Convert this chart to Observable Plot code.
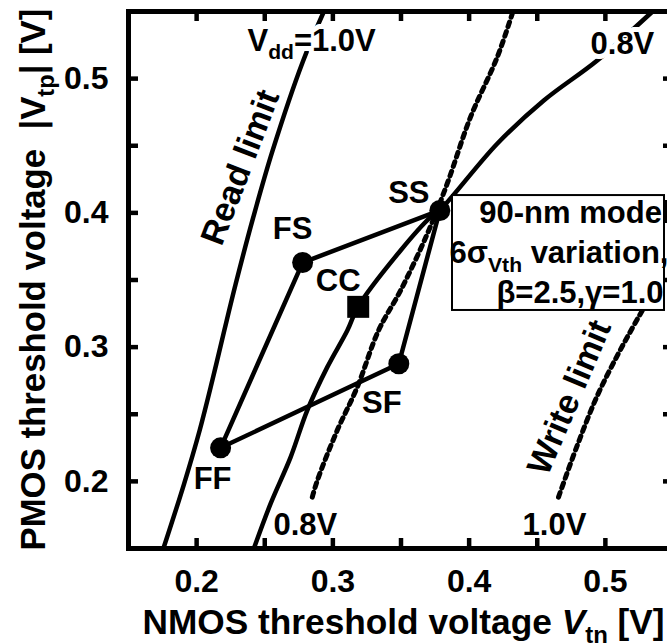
<!DOCTYPE html>
<html>
<head>
<meta charset="utf-8">
<script src="https://cdn.jsdelivr.net/npm/d3@7"></script>
<script src="https://cdn.jsdelivr.net/npm/@observablehq/plot@0.6"></script>
<style>
  html, body { margin: 0; padding: 0; overflow: hidden; background: #fff; }
  svg text, svg tspan { font-weight: 700; font-family: 'Liberation Sans', Arial, Helvetica, sans-serif; }
</style>
</head>
<body>
<div id="chart"></div>
<script>
// ---------- data ----------
const xTicks = [0.2, 0.25, 0.3, 0.35, 0.4, 0.45, 0.5];
const xTickLabels = ["0.2", "", "0.3", "", "0.4", "", "0.5"];
const yTicks = [0.2, 0.25, 0.3, 0.35, 0.4, 0.45, 0.5];
const yTickLabels = ["0.2", "", "0.3", "", "0.4", "", "0.5"];

// process corners (NMOS Vtn, PMOS |Vtp|)
const cornerNames = ["FF", "FS", "SS", "SF"];
const cornerVtn = [0.2176, 0.2778, 0.3785, 0.3484];
const cornerVtp = [0.2250, 0.3630, 0.4018, 0.2876];
const typicalName = ["CC"];
const typicalVtn = [0.3186];
const typicalVtp = [0.3300];

// Read limit, Vdd = 1.0 V (solid)
const read10Vtn = [0.1756, 0.1908, 0.2022, 0.2115, 0.2203, 0.2287, 0.2416, 0.2558, 0.2780, 0.2934];
const read10Vtp = [0.1500, 0.1982, 0.2379, 0.2751, 0.3124, 0.3472, 0.3968, 0.4465, 0.5128, 0.5500];
// Read limit, Vdd = 0.8 V (solid)
const read08Vtn = [0.2420, 0.2543, 0.2690, 0.2812, 0.2959, 0.3106, 0.3186, 0.3497, 0.3717, 0.3783, 0.4206, 0.4548, 0.4940, 0.5346];
const read08Vtp = [0.1500, 0.1834, 0.2181, 0.2529, 0.2851, 0.3124, 0.3303, 0.3720, 0.3968, 0.4018, 0.4515, 0.4837, 0.5135, 0.5500];
// Write limit, Vdd = 0.8 V (dotted)
const write08Vtn = [0.2849, 0.2886, 0.3032, 0.3179, 0.3335, 0.3497, 0.3693, 0.3839, 0.4010, 0.4206, 0.4316];
const write08Vtp = [0.1883, 0.2007, 0.2380, 0.2702, 0.3124, 0.3422, 0.3844, 0.4217, 0.4713, 0.5159, 0.5482];
// Write limit, Vdd = 1.0 V (dotted)
const write10Vtn = [0.4656, 0.4789, 0.4936, 0.5082, 0.5216, 0.5399];
const write10Vtp = [0.1883, 0.2255, 0.2628, 0.2926, 0.3175, 0.3497];

// texts
const xLabel = "NMOS threshold voltage Vtn [V]";
const yLabel = "PMOS threshold voltage  |Vtp| [V]";
const boxLines = ["90-nm model", "6σVth variation,", "β=2.5,γ=1.0"];

// ---------- annotation placement (data units) ----------
const curveLabels = [
  {text: "Vdd=1.0V", x: 0.2373, y: 0.5209},
  {text: "0.8V", x: 0.4891, y: 0.5187},
  {text: "0.8V", x: 0.2564, y: 0.1597},
  {text: "1.0V", x: 0.4392, y: 0.1597}
];
const limitLabels = [
  {text: "Read limit", x: 0.2322, y: 0.4338, rotate: -69},
  {text: "Write limit", x: 0.4737, y: 0.2625, rotate: -67}
];
const legendBox = {x1: 0.3878, x2: 0.5434, y1: 0.3273, y2: 0.4129};
const legendLineAnchors = [
  {x: 0.5478, y: 0.3928},
  {x: 0.5463, y: 0.3623},
  {x: 0.5427, y: 0.3332}
];
const labelOffsets = {FF: [-8, 31], FS: [-10, -33], SS: [-31, -17], SF: [-17, 39], CC: [-20, -26]};

// ---------- build tables ----------
const zip = (xs, ys) => xs.map((x, i) => ({x, y: ys[i]}));
const corners = cornerNames.map((n, i) => ({name: n, x: cornerVtn[i], y: cornerVtp[i]}));
const loop = [...corners, corners[0]];
const typical = typicalName.map((n, i) => ({name: n, x: typicalVtn[i], y: typicalVtp[i]}));
const read10 = zip(read10Vtn, read10Vtp);
const read08 = zip(read08Vtn, read08Vtp);
const write08 = zip(write08Vtn, write08Vtp);
const write10 = zip(write10Vtn, write10Vtp);

const fmtFrom = (ticks, labels) => d => {
  const i = ticks.findIndex(t => Math.abs(t - d) < 1e-9);
  return i >= 0 ? labels[i] : "";
};

const W = 680, H = 643, ML = 128, MR = 7, MT = 11, MB = 95;
const PW = W - ML - MR, PH = H - MT - MB;
const XD = [0.15, 0.55], YD = [0.15, 0.55];
const FONT = "'Liberation Sans', Arial, Helvetica, sans-serif";
const B = {fontWeight: "bold", fontFamily: FONT};
const dotted = {x: "x", y: "y", curve: "catmull-rom", stroke: "black", strokeWidth: 5, strokeDasharray: "5,5"};
const solid = {x: "x", y: "y", curve: "catmull-rom", stroke: "black", strokeWidth: 4.5};
const TL = 10; // inward tick length in pixels
const tlx = TL * (XD[1] - XD[0]) / PW; // same length expressed in data units
const tly = TL * (YD[1] - YD[0]) / PH;
const tickStyle = {stroke: "black", strokeWidth: 4.5};

const pointLabels = [...corners, ...typical].map(d =>
  Plot.text([d], {x: "x", y: "y", text: "name", dx: labelOffsets[d.name][0], dy: labelOffsets[d.name][1], fontSize: 31, fill: "black", ...B})
);
const labelOpts = {x: "x", y: "y", text: "text", textAnchor: "start", lineAnchor: "bottom", fontSize: 31, ...B};

const plot = Plot.plot({
  width: W,
  height: H,
  marginLeft: ML,
  marginRight: MR,
  marginTop: MT,
  marginBottom: MB,
  x: {domain: XD, label: null, axis: null},
  y: {domain: YD, label: null, axis: null},
  style: {fontFamily: FONT, fontWeight: "bold", fontSize: "30px", background: "white", maxWidth: "none"},
  marks: [
    Plot.line(read10, solid),
    Plot.line(read08, solid),
    Plot.line(write08, dotted),
    Plot.line(write10, dotted),
    Plot.line(loop, {x: "x", y: "y", stroke: "black", strokeWidth: 4.5}),
    Plot.dot(corners, {x: "x", y: "y", r: 10.5, fill: "black"}),
    Plot.dot(typical, {x: "x", y: "y", r: 12.4, symbol: "square", fill: "black"}),
    Plot.rect([legendBox], {x1: "x1", x2: "x2", y1: "y1", y2: "y2", fill: "white", stroke: "black", strokeWidth: 2}),
    ...pointLabels,
    // white halo under curve labels, then the labels
    Plot.text(curveLabels, {...labelOpts, fill: "white", stroke: "white", strokeWidth: 10}),
    Plot.text(curveLabels, {...labelOpts, fill: "black"}),
    Plot.text(limitLabels, {x: "x", y: "y", text: "text", rotate: "rotate", fontSize: 34, fill: "black", ...B}),
    Plot.text(boxLines.map((t, i) => ({text: t, ...legendLineAnchors[i]})), {x: "x", y: "y", text: "text", textAnchor: "end", lineAnchor: "bottom", fontSize: 31, fill: "black", ...B}),
    // tick labels
    Plot.axisX({anchor: "bottom", ticks: xTicks.filter((t, i) => xTickLabels[i]), tickSize: 0, tickPadding: 21, tickFormat: fmtFrom(xTicks, xTickLabels), fontSize: 32, fill: "black", label: null, ...B}),
    Plot.axisY({anchor: "left", ticks: yTicks.filter((t, i) => yTickLabels[i]), tickSize: 0, tickPadding: 20, tickFormat: fmtFrom(yTicks, yTickLabels), fontSize: 32, fill: "black", label: null, ...B}),
    Plot.text([xLabel], {frameAnchor: "bottom-left", text: d => d, textAnchor: "start", lineAnchor: "bottom", dx: 14, dy: 85, fontSize: 34.5, fill: "black", ...B}),
    Plot.text([yLabel], {frameAnchor: "bottom-left", text: d => d, rotate: -90, textAnchor: "start", lineAnchor: "bottom", dx: -84, dy: 2, fontSize: 34.5, fill: "black", ...B}),
    // frame and inward ticks on all four sides, drawn last
    Plot.frame({stroke: "black", strokeWidth: 5}),
    Plot.ruleX(xTicks, {x: d => d, y1: YD[0], y2: YD[0] + tly, ...tickStyle}),
    Plot.ruleX(xTicks, {x: d => d, y1: YD[1] - tly, y2: YD[1], ...tickStyle}),
    Plot.ruleY(yTicks, {y: d => d, x1: XD[0], x2: XD[0] + tlx, ...tickStyle}),
    Plot.ruleY(yTicks, {y: d => d, x1: XD[1] - tlx, x2: XD[1], ...tickStyle})
  ]
});

document.getElementById("chart").appendChild(plot);

// rich text: subscripts and italics, with optional fitting to a measured width
const rich = {
  "Vdd=1.0V": {parts: [["V"], ["dd", "sub"], ["=1.0V"]]},
  [xLabel]: {parts: [["NMOS threshold voltage "], ["V", "it"], ["tn", "sub"], [" [V]"]], width: 522},
  [yLabel]: {parts: [["PMOS threshold voltage  |V"], ["tp", "sub"], ["| [V]"]], width: 542},
  "6σVth variation,": {parts: [["6σ"], ["Vth", "sub"], [" variation,"]]}
};
function setRich(el, parts, fs) {
  el.textContent = "";
  el.setAttribute("font-size", fs.toFixed(2));
  let shift = 0;
  for (const [s, kind] of parts) {
    const ts = d3.select(el).append("tspan").text(s);
    if (kind === "sub") {
      ts.attr("font-size", (fs * 0.68).toFixed(2)).attr("dy", (fs * 0.28).toFixed(2));
      shift = fs * 0.28;
    } else {
      if (shift) { ts.attr("dy", (-shift).toFixed(2)); shift = 0; }
      if (kind === "it") ts.attr("font-style", "italic");
    }
  }
}
d3.select(plot).selectAll("text").each(function () {
  const spec = rich[this.textContent];
  if (!spec) return;
  const fs = parseFloat(getComputedStyle(this).fontSize);
  setRich(this, spec.parts, fs);
  if (spec.width) {
    const w = this.getBBox().width;
    if (w > 0) setRich(this, spec.parts, fs * spec.width / w);
  }
});
</script>
</body>
</html>
